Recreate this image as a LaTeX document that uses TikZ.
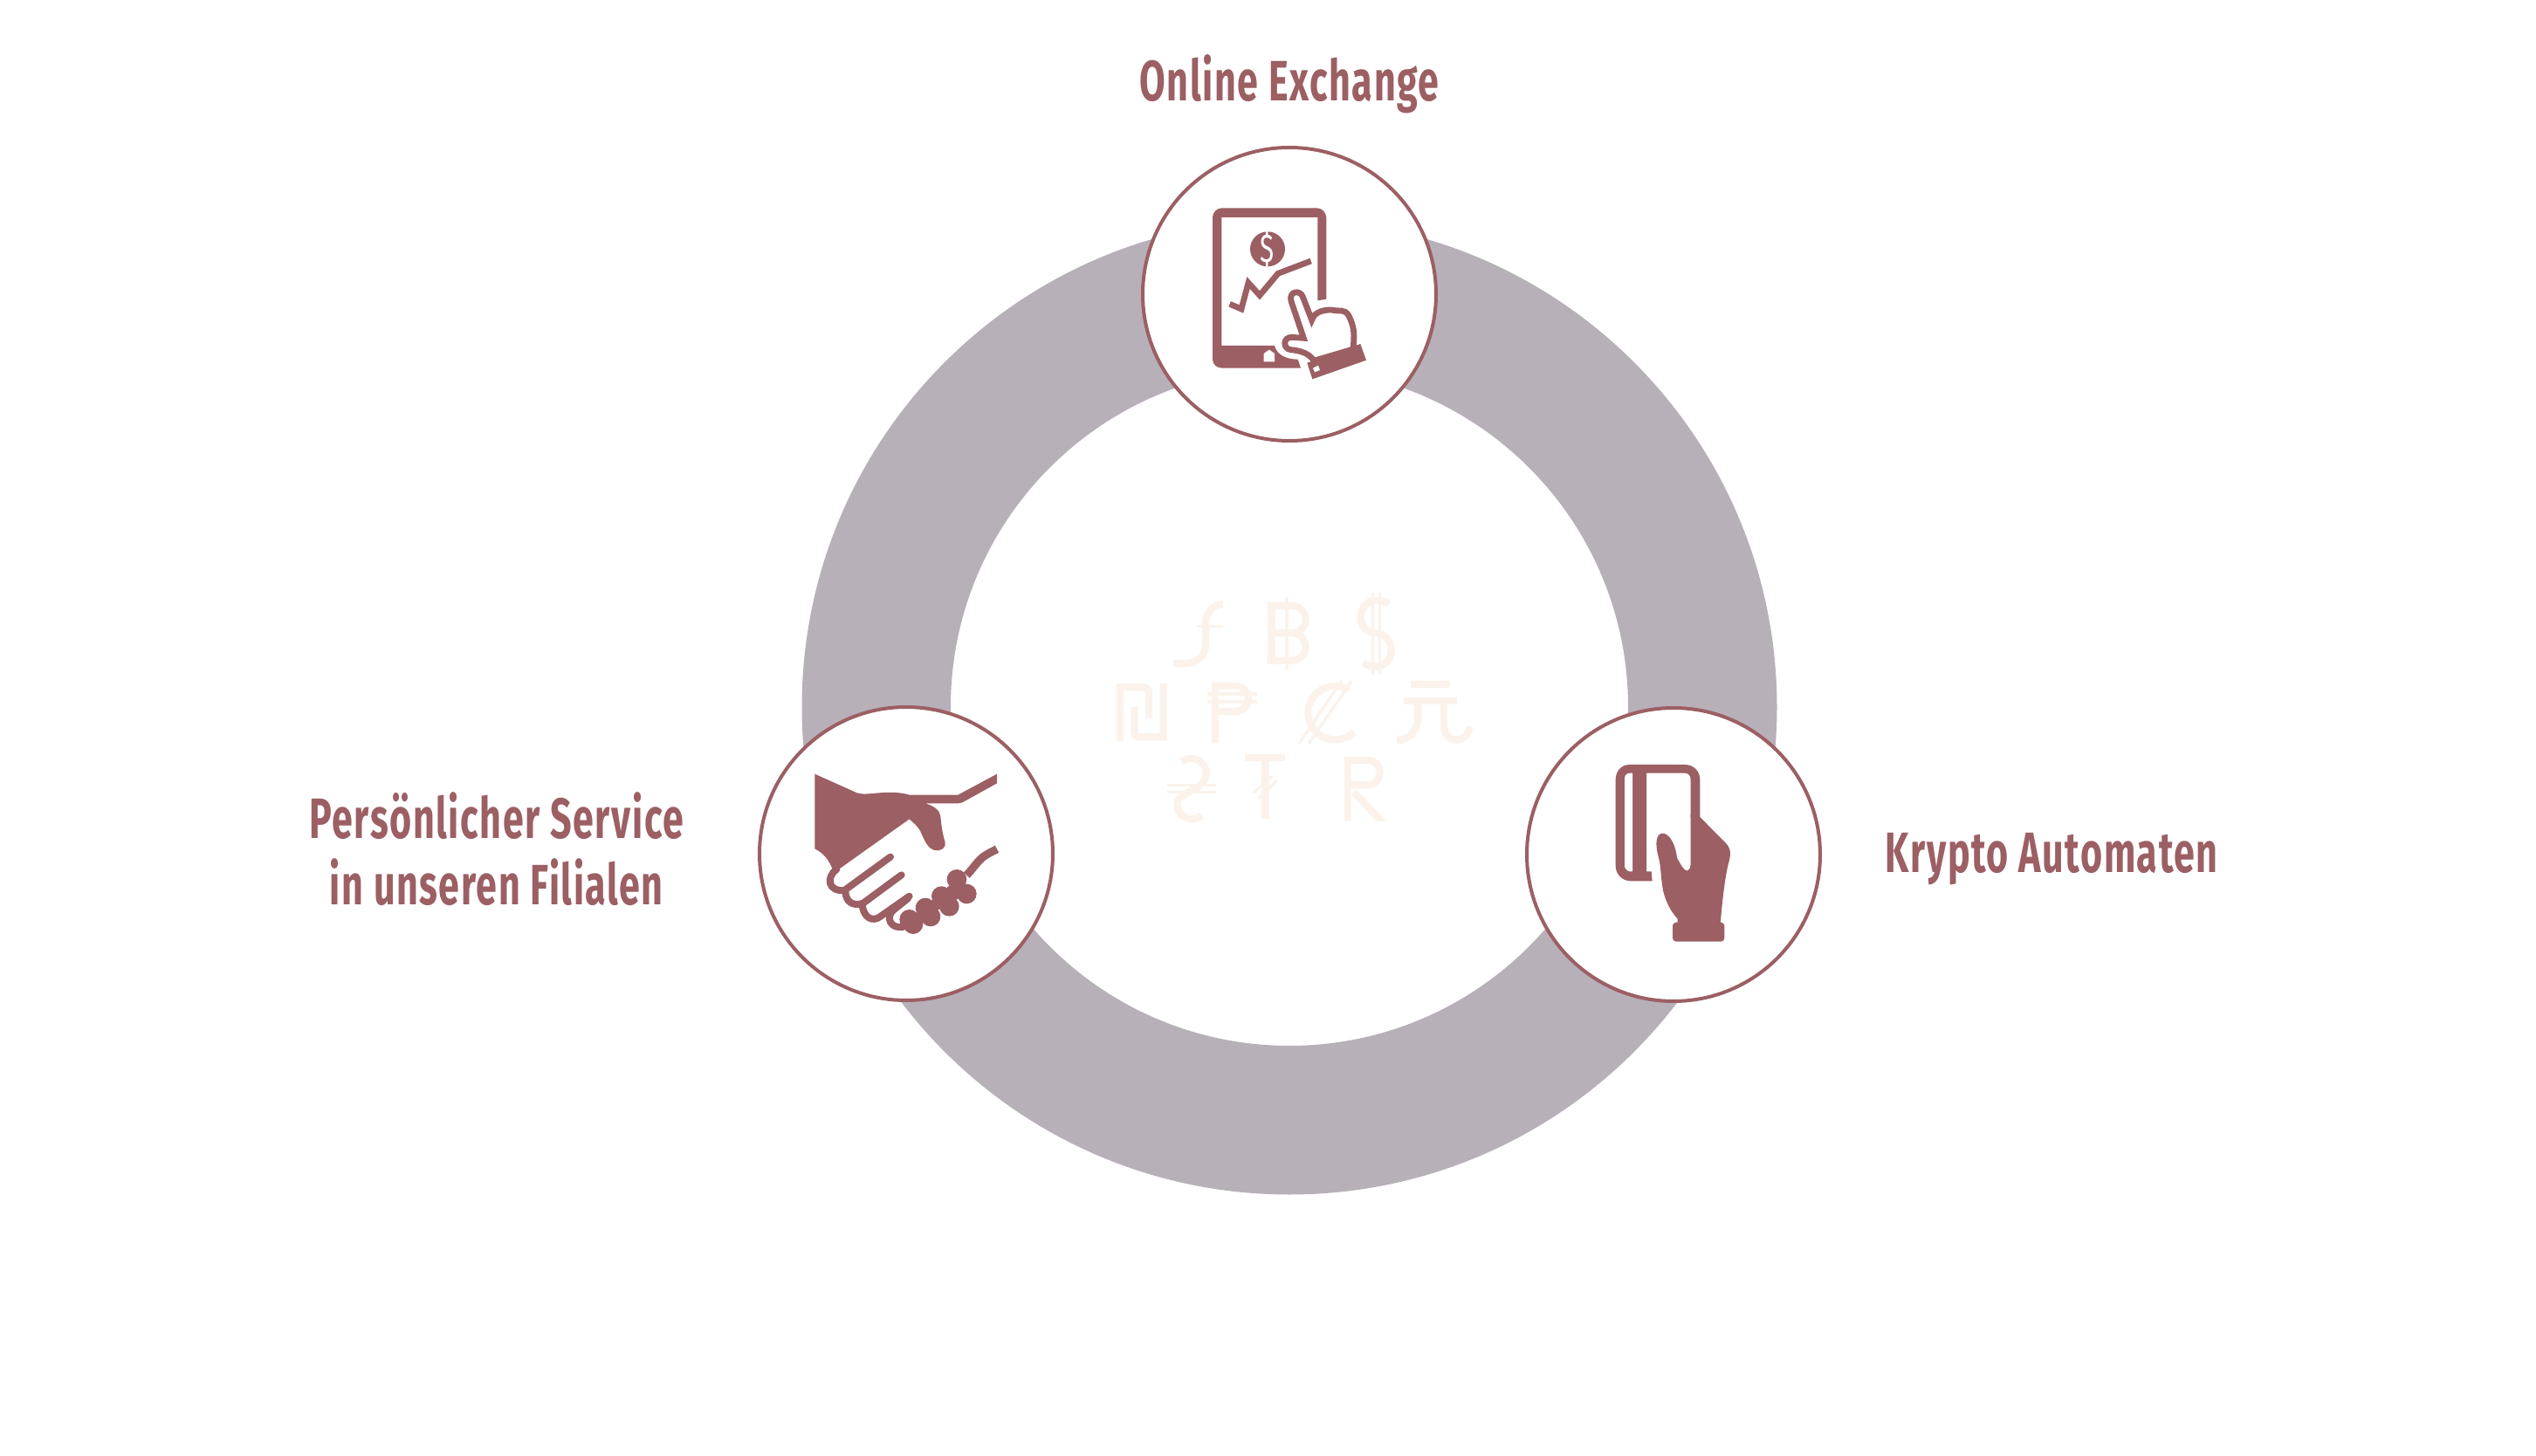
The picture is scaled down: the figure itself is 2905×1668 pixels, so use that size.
\documentclass[tikz,border=0pt]{standalone}
\usepackage{fontspec}
\setmainfont{Fira Sans}[FakeStretch=0.66, LetterSpace=2.4]
\usetikzlibrary{positioning}
\definecolor{maroon}{HTML}{9C5F63}
\definecolor{ringgray}{HTML}{B8B0B9}
\definecolor{cream}{HTML}{FBF3EB}
\tikzset{
  iconring/.style={circle, draw=maroon, fill=white, line width=1pt, minimum size=84pt, inner sep=0pt},
  lbl/.style={text=maroon, align=center, inner sep=0pt, font=\fontsize{16.3}{19}\selectfont\bfseries},
  glyph/.style={draw=cream, line width=2.08pt},
  glyphbar/.style={draw=cream, line width=.85pt},
  iconline/.style={draw=maroon, line width=1.7pt},
}
\begin{document}
\begin{tikzpicture}[x=.25pt, y=-.25pt]
\useasboundingbox (0,0) rectangle (2905,1668);
\fill[ringgray, even odd rule] (1477,810) circle (558.5) (1477,810) circle (388);

\node[iconring] (online) at (1477,337) {};
\node[iconring] (service) at (1038,978) {};
\node[iconring] (krypto) at (1917,979) {};

\node[lbl, above=9pt of online] (onlinelbl) {Online Exchange};
\node[lbl, left=21pt of service, yshift=1.4pt] (servicelbl) {Persönlicher Service\\in unseren Filialen};
\node[lbl, right=18pt of krypto, yshift=-1.4pt] (kryptolbl) {Krypto Automaten};

\begin{scope}[shift={(1290,150)}, scale=1/3]
\fill[maroon] (688,578) -- (688,300) .. controls (688,280) and (673,265) .. (655,265) -- (330,265)
  .. controls (312,265) and (297,280) .. (297,298) -- (297,785) .. controls (297,802) and (312,815) .. (330,815)
  -- (600,815) -- (590,785) .. controls (550,785) and (518,770) .. (510,738) -- (328,738) -- (328,297)
  -- (658,297) -- (658,583) -- cycle;
\fill[white] (473,793) -- (473,765) -- (492,752) -- (510,765) -- (510,793) -- cycle;
\fill[maroon] (486,406) circle (60);
\node[text=white, inner sep=0pt, font=\fontsize{11.5}{11.5}\selectfont] (dollar) at (486,406) {\$};
\draw[iconline] (356,595) -- (396,612) -- (420,522) -- (459,565) -- (522,490) -- (635,447);
\draw[iconline, fill=white] (645,790) .. controls (630,765) and (600,755) .. (565,752)
  .. controls (538,748) and (538,708) .. (570,709) -- (610,712) -- (567,585)
  .. controls (558,550) and (598,545) .. (607,570) -- (638,650)
  .. controls (648,620) and (680,615) .. (705,615) .. controls (735,622) and (750,610) .. (765,635)
  .. controls (785,675) and (785,700) .. (780,750) -- cycle;
\fill[maroon] (622,797) -- (805,732) -- (825,788) -- (640,853) -- cycle;
\fill[white] (642,815) -- (660,806) -- (666,822) -- (648,829) -- cycle;
\end{scope}

\begin{scope}[shift={(860,800)}, scale=1/3]
\fill[maroon] (220,260) -- (365,325) .. controls (400,338) and (470,310) .. (545,332) -- (712,332) -- (846,260)
  -- (846,292) -- (738,352) .. controls (730,358) and (720,361) .. (712,361) -- (600,361)
  .. controls (630,370) and (650,385) .. (652,405) .. controls (655,440) and (660,470) .. (668,495)
  .. controls (672,525) and (630,532) .. (612,510) .. controls (595,490) and (590,470) .. (582,455)
  .. controls (570,435) and (555,425) .. (545,415) -- (285,600) .. controls (270,550) and (245,530) .. (220,517) -- cycle;
\draw[iconline, line cap=round, line width=2pt] (295,588) .. controls (258,615) and (265,665) .. (322,660) -- (480,545);
\draw[iconline, line cap=round, line width=2pt] (325,660) .. controls (325,700) and (350,715) .. (385,705) -- (518,607);
\draw[iconline, line cap=round, line width=2pt] (383,705) .. controls (385,755) and (420,770) .. (445,750) -- (545,680);
\draw[iconline, line cap=round, line width=2pt] (540,688) -- (490,728) .. controls (462,752) and (480,795) .. (525,785);
\foreach \bx/\by in {558/776, 618/750, 682/715, 742/672, 545/760, 600/720, 655/680, 708/622}{
  \fill[maroon] (\bx,\by) circle (34);
}
\fill[maroon] (558,776) -- (545,760) -- (708,622) -- (742,672) -- cycle;
\draw[iconline, line width=2.3pt] (742,608) .. controls (760,590) and (775,565) .. (795,548) .. controls (815,532) and (835,525) .. (846,518);
\end{scope}

\begin{scope}[shift={(1750,800)}, scale=1/3]
\fill[maroon] (592,408) -- (592,280) .. controls (592,250) and (570,228) .. (540,228) -- (350,228)
  .. controls (322,228) and (302,250) .. (302,280) -- (302,575) .. controls (302,605) and (325,628) .. (355,628)
  -- (428,628) -- (425,595) -- (408,595) -- (408,257) -- (540,257) .. controls (552,257) and (560,265) .. (560,280)
  -- (560,408) -- cycle;
\fill[white] (360,257) -- (360,595) -- (350,595) .. controls (340,592) and (333,585) .. (333,575) -- (333,275)
  .. controls (333,265) and (340,258) .. (350,257) -- cycle;
\fill[maroon] (560,400) -- (592,408) -- (680,497) .. controls (695,510) and (700,530) .. (692,560)
  .. controls (680,600) and (670,680) .. (662,775) -- (515,775) -- (515,758)
  .. controls (490,730) and (475,700) .. (465,660) .. controls (458,620) and (458,590) .. (453,560)
  .. controls (445,530) and (435,490) .. (450,470) .. controls (470,450) and (505,480) .. (513,548)
  .. controls (525,570) and (535,590) .. (547,593) .. controls (558,588) and (560,580) .. (560,570) -- cycle;
\fill[maroon, rounded corners=1pt] (498,770) rectangle (676,836);
\end{scope}

\begin{scope}[shift={(1260,660)}, scale=1/3]
\draw[glyph] (252,299) -- (300,299) .. controls (335,299) and (363,272) .. (363,237) -- (363,160) .. controls (363,125) and (390,97) .. (423,97);
\draw[glyphbar] (333,172) -- (423,172);
\draw[glyph] (589,90) -- (589,303);
\draw[glyph] (575,102) -- (660,102) .. controls (686,102) and (707,124) .. (707,150) .. controls (707,175) and (686,196) .. (660,196) -- (589,196);
\draw[glyph] (660,196) .. controls (686,196) and (707,217) .. (707,243) .. controls (707,269) and (686,290) .. (660,290) -- (575,290);
\draw[glyphbar] (642,72) -- (642,325);
\draw[glyph] (993,97) .. controls (980,87) and (965,83) .. (948,83) .. controls (918,83) and (896,110) .. (896,142)
  .. controls (896,172) and (918,196) .. (948,196) .. controls (978,196) and (1001,222) .. (1001,255)
  .. controls (1001,285) and (978,311) .. (948,311) .. controls (932,311) and (918,306) .. (905,297);
\draw[glyphbar, line width=.75pt] (937,57) -- (937,340);
\draw[glyphbar, line width=.75pt] (960,57) -- (960,340);
\draw[glyph] (69,566) -- (69,382) -- (150,382) .. controls (160,382) and (168,390) .. (168,400) -- (168,489);
\draw[glyph] (118,450) -- (118,535) .. controls (118,545) and (125,553) .. (135,553) -- (218,553) -- (218,369);
\draw[glyph] (396,572) -- (396,377);
\draw[glyph] (384,377) -- (465,377) .. controls (490,377) and (510,397) .. (510,421) .. controls (510,445) and (490,465) .. (465,465) -- (396,465);
\draw[glyphbar] (368,405) -- (540,405);
\draw[glyphbar] (368,432) -- (540,432);
\draw[glyph] (855,391) .. controls (841,382) and (825,378) .. (807,378) .. controls (756,378) and (715,419) .. (715,470)
  .. controls (715,521) and (756,562) .. (807,562) .. controls (833,562) and (857,552) .. (873,535);
\draw[glyphbar] (685,575) -- (830,360);
\draw[glyphbar] (718,575) -- (865,360);
\draw[glyph] (1068,372) -- (1202,372);
\draw[glyph] (1044,430) -- (1226,430);
\draw[glyph] (1093,430) -- (1093,490) .. controls (1093,531) and (1060,564) .. (1020,564);
\draw[glyph] (1182,430) -- (1182,515) .. controls (1182,541) and (1200,562) .. (1225,562) .. controls (1250,562) and (1269,541) .. (1269,517);
\draw[glyph] (280,638) .. controls (290,630) and (300,627) .. (314,627) .. controls (342,627) and (365,650) .. (365,678)
  .. controls (365,700) and (350,718) .. (330,728) -- (300,745) .. controls (280,755) and (265,765) .. (265,785)
  .. controls (265,812) and (290,835) .. (317,835) .. controls (330,835) and (340,830) .. (350,822);
\draw[glyphbar] (230,718) -- (400,718);
\draw[glyphbar] (230,743) -- (400,743);
\draw[glyph] (498,624) -- (637,624);
\draw[glyph] (568,624) -- (568,833);
\draw[glyphbar] (527,745) -- (590,688);
\draw[glyphbar] (545,765) -- (608,703);
\draw[glyph] (851,843) -- (851,632);
\draw[glyph] (838,632) -- (920,632) .. controls (943,632) and (962,652) .. (962,676) .. controls (962,699) and (943,718) .. (920,718) -- (851,718);
\fill[cream] (864,752) -- (880,732) -- (985,843) -- (950,843) -- cycle;
\end{scope}
\end{tikzpicture}
\end{document}
